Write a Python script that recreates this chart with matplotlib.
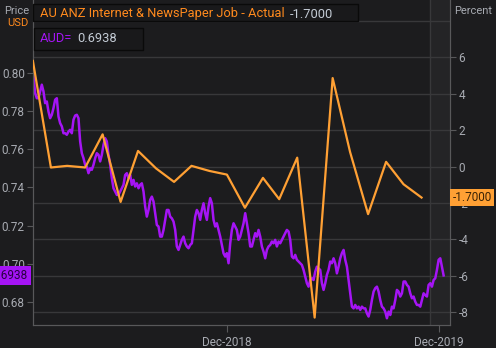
import matplotlib
matplotlib.use("Agg")
import matplotlib.pyplot as plt
import matplotlib.transforms as mtransforms
from matplotlib.patches import Rectangle
from matplotlib.ticker import FormatStrFormatter
import pandas as pd

plt.rcParams["font.family"] = ["Roboto", "DejaVu Sans"]
plt.rcParams["axes.unicode_minus"] = False

# --- data ------------------------------------------------------------------
job_months = pd.date_range("2018-01-01", "2019-11-01", freq="MS")
job_change = [5.8, -0.05, 0.04, -0.05, 1.77, -1.94, 0.86, -0.1, -0.84, 0.04, -0.24, -0.44,
              -2.26, -0.62, -1.79, 0.49, -8.29, 4.86, 0.8, -2.61, 0.26, -0.97, -1.70]

aud_close = [
    0.7983, 0.7896, 0.7869, 0.7869, 0.7905, 0.7940, 0.7905, 0.7843, 0.7852, 0.7799,
    0.7764, 0.7782, 0.7817, 0.7861, 0.7869, 0.7773, 0.7738, 0.7721, 0.7685, 0.7685,
    0.7677, 0.7694, 0.7703, 0.7685, 0.7756, 0.7778, 0.7782, 0.7764, 0.7642, 0.7580,
    0.7554, 0.7519, 0.7510, 0.7475, 0.7501, 0.7493, 0.7519, 0.7554, 0.7580, 0.7572,
    0.7537, 0.7572, 0.7624, 0.7659, 0.7642, 0.7572, 0.7519, 0.7449, 0.7396, 0.7379,
    0.7361, 0.7361, 0.7379, 0.7396, 0.7414, 0.7466, 0.7475, 0.7449, 0.7466,
    0.7414, 0.7440, 0.7405, 0.7422, 0.7396, 0.7414, 0.7422, 0.7379, 0.7300, 0.7247,
    0.7282, 0.7335, 0.7352, 0.7326, 0.7265, 0.7203, 0.7195, 0.7142, 0.7142, 0.7177,
    0.7230, 0.7282, 0.7282, 0.7247, 0.7238, 0.7221, 0.7177, 0.7090, 0.7072, 0.7098,
    0.7125, 0.7142, 0.7107, 0.7090, 0.7081, 0.7098, 0.7107, 0.7177, 0.7247, 0.7282,
    0.7265, 0.7230, 0.7282, 0.7317, 0.7265, 0.7230, 0.7300, 0.7344, 0.7317, 0.7230,
    0.7195, 0.7212, 0.7177, 0.7142, 0.7098, 0.7054, 0.7037,
    0.7055, 0.7002, 0.7107, 0.7177, 0.7212, 0.7195, 0.7177, 0.7125, 0.7142, 0.7177,
    0.7212, 0.7265, 0.7212, 0.7160, 0.7090, 0.7090, 0.7125, 0.7160, 0.7142, 0.7177,
    0.7142, 0.7090, 0.7063, 0.7028, 0.7072, 0.7090, 0.7098, 0.7116, 0.7107, 0.7125,
    0.7090, 0.7116, 0.7107, 0.7125, 0.7142, 0.7160, 0.7177, 0.7169, 0.7125, 0.7037,
    0.7028, 0.7046, 0.7020, 0.7011, 0.7002, 0.6993, 0.6967, 0.6932, 0.6897, 0.6879,
    0.6914, 0.6923, 0.6914, 0.6958, 0.6984, 0.6975, 0.6967,
    0.6897, 0.6862, 0.6897, 0.6941, 0.6967, 0.7011, 0.7002, 0.7028, 0.7002, 0.6949,
    0.6984, 0.7028, 0.7055, 0.7072, 0.7020, 0.6984, 0.6914, 0.6844, 0.6774, 0.6765,
    0.6783, 0.6765, 0.6774, 0.6757, 0.6774, 0.6765, 0.6765, 0.6739, 0.6722, 0.6757,
    0.6809, 0.6853, 0.6871, 0.6879, 0.6853, 0.6809, 0.6774, 0.6765, 0.6748, 0.6713,
    0.6748, 0.6730, 0.6774, 0.6765, 0.6809, 0.6862, 0.6853, 0.6827, 0.6844, 0.6906,
    0.6906, 0.6888, 0.6879, 0.6844, 0.6818, 0.6827, 0.6800, 0.6783, 0.6783, 0.6774,
    0.6809, 0.6844, 0.6835, 0.6827, 0.6888, 0.6897, 0.6879, 0.6914, 0.6923, 0.6967,
    0.7020, 0.7028, 0.6984, 0.6938,
]
aud_dates = pd.date_range("2018-01-02", "2019-12-09", periods=len(aud_close))

price_ticks = [0.68, 0.70, 0.72, 0.74, 0.76, 0.78, 0.80]
pct_ticks = [-8, -6, -4, -2, 0, 2, 4, 6]
pct_grid = [-8, -6, -4, -2, 0, 2, 4, 6, 8]
date_ticks = pd.to_datetime(["2018-12-01", "2019-12-01"])
date_labels = ["Dec-2018", "Dec-2019"]

job_name = "AU ANZ Internet & NewsPaper Job - Actual"
job_last = "-1.7000"
aud_name = "AUD="
aud_last = "0.6938"

# --- style -----------------------------------------------------------------
BG = "#1c1c1e"
FUTURE = "#242426"
GRID = "#38383a"
SPINE = "#58585a"
TICK_TXT = "#a8abb2"
ORANGE = "#ffa034"
ORANGE_TXT = "#ff8a1e"
PURPLE = "#a514f5"
VALUE_TXT = "#c4ccd6"

fig = plt.figure(figsize=(4.96, 3.48), dpi=100, facecolor=BG)
ax = fig.add_axes([32.5 / 496, 22.7 / 348, 417.5 / 496, 325.3 / 348])
ax2 = ax.twinx()
ax.set_facecolor(BG)

ax.set_xlim(pd.Timestamp("2017-12-31 08:00"), pd.Timestamp("2019-12-20"))
ax.set_ylim(0.6676, 0.8385)
ax2.set_ylim(-8.714, 9.146)

# shaded "future" strip at the right edge
ax.axvspan(pd.Timestamp("2019-11-16"), pd.Timestamp("2019-12-21"), color=FUTURE, zorder=0, lw=0)
ax.axvline(pd.Timestamp("2019-11-16"), color=GRID, lw=1, zorder=0.5)

# grid follows the percent axis but sits below both lines
grid_tr = mtransforms.blended_transform_factory(ax.transAxes, ax2.transData)
ax.hlines(pct_grid, 0, 1, transform=grid_tr, color=GRID, lw=1, zorder=0.6)

ax.plot(aud_dates, aud_close, color=PURPLE, lw=1.8, zorder=2)
ax2.plot(job_months, job_change, color=ORANGE, lw=1.6, zorder=3)

for a in (ax, ax2):
    for side in a.spines:
        a.spines[side].set_color(SPINE)
    a.spines["top"].set_visible(False)

ax.set_yticks(price_ticks)
ax.yaxis.set_major_formatter(FormatStrFormatter("%.2f"))
ax2.set_yticks(pct_ticks)
ax2.yaxis.set_major_formatter(FormatStrFormatter("%d"))
ax.set_xticks(date_ticks)
ax.set_xticklabels(date_labels)

ax.tick_params(axis="y", colors=SPINE, labelcolor=TICK_TXT, labelsize=8.5, length=4, pad=1.5)
ax2.tick_params(axis="y", colors=SPINE, labelcolor=TICK_TXT, labelsize=8.5, length=4, pad=2)
ax.tick_params(axis="x", colors=SPINE, labelcolor=TICK_TXT, labelsize=8.5, length=5, pad=3)

# last-value tags on the axes
ax.text(-0.011, 0.6938, aud_last, transform=mtransforms.blended_transform_factory(ax.transAxes, ax.transData),
        ha="right", va="center", fontsize=8.5, color="#2a0042", clip_on=False,
        bbox=dict(boxstyle="square,pad=0.25", fc=PURPLE, ec="none"))
ax2.text(1.006, -1.70, job_last, transform=mtransforms.blended_transform_factory(ax2.transAxes, ax2.transData),
         ha="left", va="center", fontsize=8.5, color="#3a2306", clip_on=False,
         bbox=dict(boxstyle="square,pad=0.2", fc=ORANGE, ec="none"))

# axis captions
fig.text(29 / 496, 1 - 11 / 348, "Price", ha="right", va="center", fontsize=8, color=TICK_TXT)
fig.text(29 / 496, 1 - 23 / 348, "USD", ha="right", va="center", fontsize=8, color=ORANGE_TXT)
fig.text(454 / 496, 1 - 11 / 348, "Percent", ha="left", va="center", fontsize=8, color=TICK_TXT)

# legend boxes
for x0, y0, x1, y1 in [(33, 4, 358, 21), (34, 28, 143, 50)]:
    fig.add_artist(Rectangle((x0 / 496, 1 - y1 / 348), (x1 - x0) / 496, (y1 - y0) / 348,
                             transform=fig.transFigure, fc="#19191b", ec="#0a0a0a", lw=1, zorder=4))

t1 = fig.text(40 / 496, 1 - 14 / 348, job_name, ha="left", va="center", fontsize=9.3,
              color=ORANGE_TXT, zorder=5)
t2 = fig.text(40 / 496, 1 - 38.7 / 348, aud_name, ha="left", va="center", fontsize=9.3,
              color=PURPLE, zorder=5)
fig.canvas.draw()
renderer = fig.canvas.get_renderer()
for lead, value, gap, yc in [(t1, job_last, 5, 14), (t2, aud_last, 5, 38.7)]:
    x_end = lead.get_window_extent(renderer).x1
    fig.text((x_end + gap) / 496, 1 - yc / 348, value, ha="left", va="center", fontsize=9.3,
             color=VALUE_TXT, zorder=5)

fig.savefig("out.png", dpi=100, facecolor=BG)
